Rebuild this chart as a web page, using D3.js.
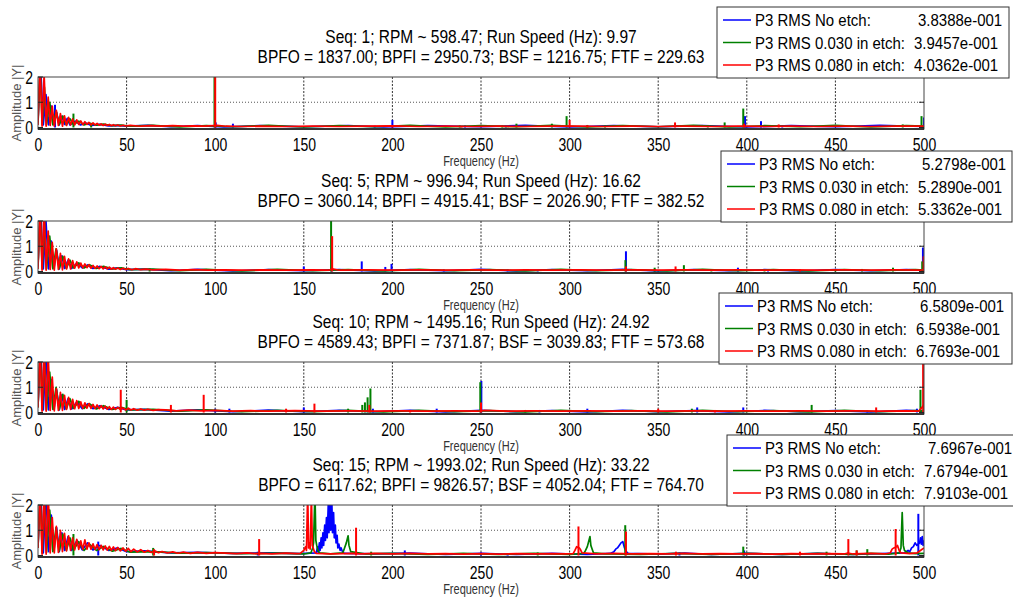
<!DOCTYPE html>
<html>
<head>
<meta charset="utf-8">
<script src="https://cdn.jsdelivr.net/npm/d3@7"></script>
<style>
body { margin: 0; background: #fff; }
svg text { font-family: "Liberation Sans", Arial, Helvetica, sans-serif; }
</style>
</head>
<body>
<script>
/* Envelope spectra, 4 run speeds, 3 etch depths each */
var freqTicks = [0, 50, 100, 150, 200, 250, 300, 350, 400, 450, 500];
var ampTicks = [0, 1, 2];
var seqTitles = [
	"Seq: 1; RPM ~ 598.47; Run Speed (Hz): 9.97",
	"Seq: 5; RPM ~ 996.94; Run Speed (Hz): 16.62",
	"Seq: 10; RPM ~ 1495.16; Run Speed (Hz): 24.92",
	"Seq: 15; RPM ~ 1993.02; Run Speed (Hz): 33.22"
];
var bearingTitles = [
	"BPFO = 1837.00; BPFI = 2950.73; BSF = 1216.75; FTF = 229.63",
	"BPFO = 3060.14; BPFI = 4915.41; BSF = 2026.90; FTF = 382.52",
	"BPFO = 4589.43; BPFI = 7371.87; BSF = 3039.83; FTF = 573.68",
	"BPFO = 6117.62; BPFI = 9826.57; BSF = 4052.04; FTF = 764.70"
];
var legendLabels = ["P3 RMS No etch:", "P3 RMS 0.030 in etch:", "P3 RMS 0.080 in etch:"];
var rmsNoEtch = ["3.8388e-001", "5.2798e-001", "6.5809e-001", "7.6967e-001"];
var rmsEtch030 = ["3.9457e-001", "5.2890e-001", "6.5938e-001", "7.6794e-001"];
var rmsEtch080 = ["4.0362e-001", "5.3362e-001", "6.7693e-001", "7.9103e-001"];
var seriesColors = ["#0000ff", "#008000", "#ff0000"];

/* Seq 1 : [Hz, |Y|] */
var seq1NoEtch = [[0,0.3],[1.5,2.4],[3,0.1],[4.5,1.3],[6,0.1],[7.5,0.85],[9,0.12],[10.5,0.6],[12,0.1],[13.5,0.45],[15,0.12],[16.5,0.36],[18,0.1],[21,0.25],[24,0.1],[27,0.18],[30,0.08],[35,0.12],[40,0.06],[45,0.08],[50,0.05],[62,0.08],[75,0.03],[90,0.07],[105,0.02],[125,0.07],[150,0.03],[175,0.07],[195,0.02],[220,0.07],[250,0.03],[275,0.08],[300,0.02],[325,0.07],[350,0.03],[375,0.07],[400,0.02],[425,0.07],[450,0.03],[475,0.08],[500,0.04]];
var seq1NoEtchPeaks = [[9.6,0.9],[100.3,0.2],[110,0.15],[190,0.07],[200,0.3],[241,0.08],[264,0.08],[399,0.45],[408,0.25],[420,0.08],[500,0.4]];
var seq1Etch030 = [[0,0.2],[1.2,2.3],[2.4,0.1],[3.6,1.6],[4.8,0.1],[6.6,1.0],[8.4,0.1],[10.2,0.65],[12,0.12],[14,0.45],[16,0.1],[18,0.35],[20,0.12],[23,0.25],[26,0.1],[29,0.18],[33,0.09],[37,0.13],[42,0.07],[47,0.09],[52,0.05],[65,0.08],[80,0.02],[95,0.07],[110,0.03],[130,0.08],[150,0.02],[170,0.07],[190,0.03],[210,0.08],[230,0.02],[250,0.07],[270,0.03],[290,0.08],[310,0.02],[330,0.07],[350,0.03],[370,0.08],[390,0.02],[410,0.07],[430,0.03],[450,0.08],[470,0.02],[490,0.07],[500,0.05]];
var seq1Etch030Peaks = [[20,0.55],[30,0.15],[99.6,2.5],[238,0.08],[262,0.08],[270,0.15],[290,0.15],[298.3,0.45],[310,0.1],[320,0.08],[378,0.08],[387.5,0.2],[398,0.75],[488,0.12],[498.6,0.45]];
var seq1Etch080 = [[0,0.1],[1.15,2.6],[2.3,0.05],[3.45,2.1],[4.6,0.05],[5.75,1.2],[6.9,0.08],[8.05,0.85],[9.2,0.05],[10.35,0.68],[11.5,0.08],[12.65,0.55],[13.8,0.05],[14.95,0.46],[16.1,0.08],[17.25,0.4],[18.4,0.1],[19.55,0.34],[20.7,0.1],[21.85,0.3],[23,0.12],[24.15,0.26],[25.3,0.11],[26.45,0.23],[27.6,0.12],[28.75,0.2],[29.9,0.1],[31.05,0.18],[32.2,0.1],[33.35,0.16],[34.5,0.09],[35.65,0.14],[36.8,0.08],[37.95,0.13],[39.1,0.08],[40.25,0.12],[41.4,0.07],[42.55,0.11],[43.7,0.07],[45,0.1],[46.5,0.06],[48,0.09],[49.5,0.06],[52,0.08],[58,0.05],[64,0.07],[70,0.05],[76,0.07],[82,0.05],[88,0.06],[94,0.05],[99,0.07],[101,0.08],[106,0.05],[115,0.04],[125,0.05],[140,0.04],[155,0.05],[170,0.04],[185,0.05],[200,0.06],[215,0.04],[230,0.05],[245,0.04],[260,0.05],[275,0.04],[290,0.05],[305,0.05],[320,0.04],[335,0.05],[350,0.04],[365,0.05],[380,0.04],[395,0.05],[410,0.04],[425,0.05],[440,0.04],[455,0.05],[470,0.04],[485,0.05],[500,0.05]];
var seq1Etch080Peaks = [[100,2.6],[200,0.1],[239,0.06],[300,0.3],[310,0.08],[359.5,0.2],[398.5,0.15],[418,0.12]];

/* Seq 5 */
var seq5NoEtch = [[0,0.3],[1.5,2.5],[3,0.1],[4.5,2.0],[6,0.1],[7.5,1.2],[9,0.12],[10.5,0.85],[12,0.1],[13.5,0.62],[15,0.12],[17,0.45],[19,0.12],[22,0.33],[25,0.14],[28,0.26],[31,0.12],[35,0.2],[40,0.09],[45,0.14],[50,0.07],[60,0.09],[75,0.03],[90,0.08],[110,0.02],[130,0.07],[150,0.03],[170,0.07],[190,0.02],[210,0.07],[230,0.03],[250,0.08],[270,0.02],[290,0.07],[310,0.03],[330,0.08],[350,0.02],[370,0.07],[390,0.03],[410,0.07],[430,0.02],[450,0.07],[470,0.03],[490,0.07],[500,0.05]];
var seq5NoEtchPeaks = [[150,0.2],[165.7,0.5],[182.7,0.4],[196,0.18],[199.5,0.3],[229,0.08],[265,0.08],[282,0.06],[331.8,0.8],[348,0.1],[395,0.15],[412,0.07],[499.4,0.95]];
var seq5Etch030 = [[0,0.2],[1.2,2.4],[2.4,0.1],[3.6,2.1],[4.8,0.1],[6.6,1.4],[8.4,0.1],[10.2,0.9],[12,0.12],[14,0.6],[16,0.12],[18,0.45],[20,0.14],[23,0.34],[26,0.14],[29,0.27],[33,0.12],[37,0.2],[42,0.1],[47,0.14],[52,0.07],[65,0.09],[80,0.03],[95,0.08],[115,0.02],[135,0.08],[155,0.03],[175,0.07],[195,0.02],[215,0.08],[235,0.03],[255,0.07],[275,0.02],[295,0.08],[315,0.03],[335,0.07],[355,0.02],[375,0.08],[395,0.03],[415,0.07],[435,0.02],[455,0.07],[475,0.03],[495,0.07],[500,0.05]];
var seq5Etch030Peaks = [[63,0.12],[165.4,2.6],[331.5,0.45],[348,0.15],[364.5,0.25],[380,0.07],[410,0.07],[450,0.1],[465,0.1],[482.5,0.15],[499,0.4]];
var seq5Etch080 = [[0,0.1],[1.15,2.6],[2.3,0.05],[3.45,2.5],[4.6,0.05],[5.75,1.6],[6.9,0.08],[8.05,1.15],[9.2,0.05],[10.35,0.9],[11.5,0.08],[12.65,0.72],[13.8,0.06],[14.95,0.6],[16.1,0.1],[17.25,0.5],[18.4,0.1],[19.55,0.43],[20.7,0.13],[21.85,0.38],[23,0.14],[24.15,0.33],[25.3,0.14],[26.45,0.3],[27.6,0.15],[28.75,0.27],[29.9,0.13],[31.05,0.24],[32.2,0.12],[33.35,0.22],[34.5,0.11],[35.65,0.2],[36.8,0.1],[37.95,0.18],[39.1,0.1],[40.25,0.17],[41.4,0.09],[42.55,0.15],[43.7,0.09],[45,0.14],[46.5,0.08],[48,0.13],[49.5,0.08],[51,0.12],[53,0.07],[55,0.11],[58,0.07],[61,0.09],[65,0.06],[72,0.08],[80,0.05],[88,0.07],[96,0.05],[105,0.06],[115,0.05],[125,0.06],[140,0.05],[155,0.06],[164,0.05],[166,0.1],[170,0.05],[185,0.06],[200,0.05],[215,0.06],[230,0.05],[245,0.06],[260,0.05],[275,0.06],[290,0.05],[305,0.06],[320,0.05],[335,0.06],[350,0.05],[365,0.06],[380,0.05],[395,0.06],[410,0.05],[425,0.06],[440,0.05],[455,0.06],[470,0.05],[485,0.06],[498,0.05],[500,0.08]];
var seq5Etch080Peaks = [[166,1.4],[331.8,0.2],[359.8,0.2],[430,0.08],[499.8,0.6]];

/* Seq 10 */
var seq10NoEtch = [[0,0.3],[1.5,2.5],[3,0.1],[4.5,2.3],[6,0.1],[7.5,1.3],[9,0.12],[10.5,0.9],[12,0.1],[13.5,0.7],[15,0.12],[17,0.55],[19,0.14],[22,0.42],[25,0.15],[28,0.34],[31,0.15],[35,0.27],[40,0.12],[45,0.2],[50,0.1],[60,0.12],[75,0.05],[90,0.1],[110,0.03],[130,0.09],[150,0.03],[170,0.08],[190,0.03],[210,0.08],[230,0.02],[250,0.08],[270,0.03],[290,0.07],[310,0.02],[330,0.08],[350,0.03],[370,0.07],[390,0.02],[410,0.08],[430,0.03],[450,0.07],[470,0.02],[490,0.08],[500,0.05]];
var seq10NoEtchPeaks = [[100,0.15],[108,0.15],[150,0.2],[189,0.15],[225,0.15],[250.2,1.25],[283,0.1],[310,0.15],[372,0.2],[398,0.2],[468,0.08],[496,0.15]];
var seq10Etch030 = [[0,0.2],[1.2,2.5],[2.4,0.1],[3.6,2.4],[4.8,0.1],[6.6,1.6],[8.4,0.12],[10.2,1.0],[12,0.12],[14,0.72],[16,0.14],[18,0.55],[20,0.16],[23,0.44],[26,0.16],[29,0.35],[33,0.14],[37,0.27],[42,0.12],[47,0.2],[52,0.1],[65,0.12],[80,0.05],[95,0.1],[115,0.03],[135,0.08],[155,0.03],[175,0.08],[195,0.02],[215,0.08],[235,0.03],[255,0.07],[275,0.02],[295,0.08],[315,0.03],[335,0.07],[355,0.02],[375,0.08],[395,0.03],[415,0.07],[435,0.02],[455,0.08],[475,0.03],[495,0.07],[500,0.05]];
var seq10Etch030Peaks = [[50,0.5],[175,0.15],[183,0.3],[184.5,0.4],[186,0.6],[187.6,0.95],[249.6,1.2],[275,0.1],[369,0.15],[436.6,0.3],[498,0.9]];
var seq10Etch080 = [[0,0.2],[1.15,2.6],[2.3,0.05],[3.45,2.6],[4.6,0.05],[5.75,2.3],[6.9,0.08],[8.05,1.4],[9.2,0.06],[10.35,0.95],[11.5,0.08],[12.65,0.8],[13.8,0.08],[14.95,0.68],[16.1,0.12],[17.25,0.6],[18.4,0.12],[19.55,0.52],[20.7,0.15],[21.85,0.47],[23,0.16],[24.15,0.42],[25.3,0.16],[26.45,0.38],[27.6,0.17],[28.75,0.35],[29.9,0.16],[31.05,0.32],[32.2,0.15],[33.35,0.3],[34.5,0.15],[35.65,0.27],[36.8,0.14],[37.95,0.25],[39.1,0.13],[40.25,0.23],[41.4,0.12],[42.55,0.21],[43.7,0.12],[45,0.2],[46.5,0.11],[48,0.18],[49.5,0.1],[51,0.17],[52.5,0.1],[54,0.15],[56,0.09],[58,0.14],[60,0.09],[62,0.13],[65,0.08],[68,0.11],[72,0.1],[78,0.06],[85,0.09],[92,0.06],[100,0.08],[110,0.05],[120,0.07],[130,0.05],[145,0.07],[160,0.05],[175,0.06],[190,0.05],[205,0.06],[220,0.05],[235,0.06],[248,0.05],[252,0.08],[265,0.05],[280,0.06],[295,0.05],[310,0.06],[325,0.05],[340,0.06],[355,0.05],[370,0.06],[385,0.05],[400,0.06],[415,0.05],[430,0.06],[445,0.05],[460,0.06],[475,0.05],[490,0.06],[497,0.05],[500,0.3]];
var seq10Etch080Peaks = [[46.7,0.9],[75,0.3],[93.5,0.7],[140,0.15],[156,0.35],[187,0.3],[210,0.1],[250,0.4],[350,0.15],[382,0.1],[473,0.2],[499.5,2.6]];

/* Seq 15 */
var seq15NoEtch = [[0,0.4],[1.5,2.5],[3,0.1],[4.5,2.4],[6,0.15],[7.5,1.6],[9,0.2],[10.5,1.1],[12,0.15],[13.5,0.9],[15,0.2],[17,0.75],[19,0.2],[22,0.6],[25,0.22],[28,0.5],[31,0.22],[35,0.4],[40,0.2],[45,0.3],[50,0.15],[60,0.18],[75,0.1],[90,0.12],[110,0.08],[130,0.1],[148,0.07],[157,0.1],[157.8,0.35],[158.2,0.12],[158.8,0.5],[159.2,0.2],[159.8,0.7],[160.2,0.3],[160.8,0.9],[161.2,0.4],[161.8,1.2],[162.2,0.6],[162.8,1.5],[163.2,0.7],[163.8,2.0],[164.2,0.9],[164.8,2.4],[165.2,1.0],[165.8,2.2],[166.2,0.9],[166.8,1.7],[167.2,0.7],[167.8,1.2],[168.2,0.5],[168.8,0.8],[169.2,0.3],[169.8,0.45],[170.5,0.2],[171,0.3],[172,0.12],[173,0.08],[190,0.06],[210,0.09],[230,0.04],[250,0.08],[270,0.04],[290,0.08],[310,0.04],[323,0.08],[325,0.15],[326,0.25],[327,0.3],[328,0.4],[329,0.5],[330,0.55],[331,0.3],[332,0.15],[333,0.08],[350,0.05],[365,0.09],[380,0.04],[400,0.08],[420,0.04],[440,0.08],[460,0.04],[480,0.08],[489,0.1],[491,0.2],[492,0.15],[493,0.3],[494,0.35],[495,0.5],[496,0.4],[497.5,0.5],[498,0.7],[498.5,0.45],[499,0.75],[499.5,0.4],[500,0.6]];
var seq15NoEtchPeaks = [[34,0.55],[124,0.15],[207,0.2],[250,0.12],[265,0.08],[362,0.12],[398.5,0.2],[496.8,1.65]];
var seq15Etch030 = [[0,0.3],[1.2,2.5],[2.4,0.1],[3.6,2.4],[4.8,0.12],[6.6,1.8],[8.4,0.15],[10.2,1.1],[12,0.18],[14,0.85],[16,0.2],[18,0.7],[20,0.22],[23,0.55],[26,0.2],[29,0.45],[33,0.2],[37,0.36],[42,0.17],[47,0.28],[52,0.13],[65,0.15],[80,0.09],[95,0.11],[115,0.07],[135,0.09],[150,0.06],[154,0.1],[155,0.3],[155.5,0.5],[156.3,2.5],[156.8,0.6],[157.3,0.4],[158,0.2],[159,0.1],[165,0.06],[172,0.1],[173,0.3],[174,0.5],[175,0.78],[175.5,0.4],[176.5,0.15],[185,0.06],[200,0.08],[220,0.04],[240,0.08],[260,0.04],[280,0.08],[300,0.04],[308,0.08],[309,0.2],[310,0.35],[311.5,0.75],[312,0.4],[312.5,0.3],[313.5,0.1],[320,0.06],[340,0.04],[360,0.08],[380,0.04],[400,0.08],[420,0.04],[440,0.08],[460,0.04],[470,0.08],[480,0.05],[486,0.1],[487,0.3],[487.7,1.7],[488.3,0.4],[489,0.2],[490,0.15],[491,0.1],[495,0.07],[500,0.08]];
var seq15Etch030Peaks = [[20,0.85],[65,0.3],[188,0.15],[282,0.12],[331.4,1.2],[398,0.35],[445,0.15],[462,0.2],[468,0.25]];
var seq15Etch080 = [[0,0.3],[1.15,2.6],[2.3,0.05],[3.45,2.6],[4.6,0.05],[5.75,2.5],[6.9,0.1],[8.05,1.5],[9.2,0.1],[10.35,1.15],[11.5,0.12],[12.65,1.0],[13.8,0.15],[14.95,0.88],[16.1,0.18],[17.25,0.78],[18.4,0.2],[19.55,0.7],[20.7,0.22],[21.85,0.64],[23,0.24],[24.15,0.58],[25.3,0.24],[26.45,0.62],[27.6,0.25],[28.75,0.5],[29.9,0.25],[31.05,0.46],[32.2,0.24],[33.35,0.43],[34.5,0.23],[35.65,0.4],[36.8,0.22],[37.95,0.38],[39.1,0.21],[40.25,0.36],[41.4,0.2],[42.55,0.34],[43.7,0.19],[45,0.32],[46.5,0.18],[48,0.3],[49.5,0.17],[51,0.28],[52.5,0.15],[54,0.25],[56,0.14],[58,0.23],[60,0.13],[62,0.2],[64,0.12],[66,0.18],[68,0.11],[70,0.16],[73,0.1],[76,0.14],[79,0.09],[82,0.13],[86,0.08],[90,0.12],[95,0.08],[100,0.11],[106,0.09],[112,0.07],[118,0.1],[122,0.07],[126,0.08],[132,0.06],[140,0.09],[146,0.07],[148,0.08],[150,0.2],[151,0.35],[151.5,0.2],[152.2,2.5],[152.7,0.3],[153.2,0.5],[153.6,0.25],[154.3,2.4],[154.8,0.4],[155.3,0.3],[156,0.15],[157,0.08],[165,0.06],[172,0.07],[178,0.08],[182,0.06],[190,0.08],[200,0.06],[210,0.08],[220,0.06],[230,0.07],[240,0.05],[250,0.07],[260,0.05],[270,0.07],[280,0.06],[290,0.07],[298,0.06],[302,0.07],[303,0.2],[304,0.35],[305,0.3],[305.5,0.3],[306,0.25],[307,0.1],[315,0.06],[325,0.08],[335,0.06],[345,0.07],[355,0.06],[365,0.08],[375,0.06],[385,0.07],[395,0.06],[405,0.07],[415,0.05],[425,0.07],[435,0.06],[445,0.07],[455,0.06],[457,0.1],[460,0.06],[470,0.08],[478,0.06],[481,0.1],[482,0.25],[483,0.3],[484.5,0.35],[485,0.4],[486,0.2],[487,0.1],[492,0.07],[496,0.1],[500,0.3]];
var seq15Etch080Peaks = [[65.5,0.25],[124.8,0.65],[179.5,1.1],[305,1.15],[331.8,0.95],[360,0.15],[430,0.15],[457.3,0.65],[462,0.2],[484,1.05]];

var panelSeries = [
	[[seq1NoEtch, seq1NoEtchPeaks], [seq1Etch030, seq1Etch030Peaks], [seq1Etch080, seq1Etch080Peaks]],
	[[seq5NoEtch, seq5NoEtchPeaks], [seq5Etch030, seq5Etch030Peaks], [seq5Etch080, seq5Etch080Peaks]],
	[[seq10NoEtch, seq10NoEtchPeaks], [seq10Etch030, seq10Etch030Peaks], [seq10Etch080, seq10Etch080Peaks]],
	[[seq15NoEtch, seq15NoEtchPeaks], [seq15Etch030, seq15Etch030Peaks], [seq15Etch080, seq15Etch080Peaks]]
];

/* layout */
var W = 1013, H = 597;
var plotLeft = 38, plotRight = 924, plotH = 52;
var plotTops = [77, 221, 362, 505];
var legendBoxes = [{x: 717, y: 7, w: 292}, {x: 721, y: 151, w: 291}, {x: 719, y: 293, w: 293}, {x: 727, y: 435, w: 300}];

var svg = d3.select('body').append('svg').attr('width', W).attr('height', H);
var x = d3.scaleLinear().domain([0, 500]).range([plotLeft, plotRight]);
var midX = (plotLeft + plotRight) / 2;

plotTops.forEach(function(top, i){
	var bottom = top + plotH;
	var y = d3.scaleLinear().domain([-0.06, 2]).range([bottom, top]);
	var g = svg.append('g').classed('panel', true);

	svg.append('clipPath').attr('id', 'clip' + i)
		.append('rect').attr('x', plotLeft).attr('y', top)
		.attr('width', plotRight - plotLeft).attr('height', plotH);

	// dotted grid
	g.append('g').selectAll('line').data(freqTicks.slice(1, -1)).join('line')
		.attr('x1', function(d){ return x(d); }).attr('x2', function(d){ return x(d); })
		.attr('y1', top).attr('y2', bottom)
		.attr('stroke', '#333').attr('stroke-dasharray', '2,1.5');
	g.append('line').attr('x1', plotLeft).attr('x2', plotRight)
		.attr('y1', y(1)).attr('y2', y(1))
		.attr('stroke', '#555').attr('stroke-dasharray', '1,2');

	// spectra
	var line = d3.line().x(function(d){ return x(d[0]); }).y(function(d){ return y(d[1]); });
	var plotG = g.append('g').attr('clip-path', 'url(#clip' + i + ')');
	panelSeries[i].forEach(function(s, k){
		plotG.append('path').attr('d', line(s[0]))
			.attr('fill', 'none').attr('stroke', seriesColors[k])
			.attr('stroke-width', 1.7).attr('stroke-linejoin', 'round');
		plotG.append('g').selectAll('line').data(s[1]).join('line')
			.attr('x1', function(d){ return x(d[0]); }).attr('x2', function(d){ return x(d[0]); })
			.attr('y1', y(0)).attr('y2', function(d){ return y(d[1]); })
			.attr('stroke', seriesColors[k]).attr('stroke-width', 2);
	});

	// box + inward ticks
	g.append('rect').attr('x', plotLeft).attr('y', top)
		.attr('width', plotRight - plotLeft).attr('height', plotH)
		.attr('fill', 'none').attr('stroke', '#444').attr('stroke-width', 1);
	g.append('line').attr('x1', plotLeft).attr('x2', plotRight).attr('y1', bottom).attr('y2', bottom)
		.attr('stroke', '#111').attr('stroke-width', 1.5);
	g.append('g').selectAll('line').data(ampTicks).join('line')
		.attr('x1', plotRight - 5).attr('x2', plotRight)
		.attr('y1', function(d){ return y(d); }).attr('y2', function(d){ return y(d); })
		.attr('stroke', '#222');
	g.append('g').selectAll('line').data(ampTicks).join('line')
		.attr('x1', plotLeft).attr('x2', plotLeft + 5)
		.attr('y1', function(d){ return y(d); }).attr('y2', function(d){ return y(d); })
		.attr('stroke', '#222');

	// tick labels
	var xAxis = g.append('g').attr('transform', 'translate(0,' + bottom + ')')
		.call(d3.axisBottom(x).tickValues(freqTicks).tickSize(0).tickFormat(d3.format('d')));
	xAxis.select('.domain').remove();
	xAxis.attr('font-size', 14).attr('font-family', null);
	xAxis.selectAll('text').attr('y', 0).attr('dy', '0.35em').attr('fill', '#000')
		.attr('transform', 'translate(0,16) scale(1,1.25)');

	var yAxis = g.append('g').attr('transform', 'translate(' + plotLeft + ',0)')
		.call(d3.axisLeft(y).tickValues(ampTicks).tickSize(0).tickFormat(d3.format('d')));
	yAxis.select('.domain').remove();
	yAxis.attr('font-size', 14).attr('font-family', null);
	yAxis.selectAll('text').attr('x', -5).attr('dy', '0.35em').attr('fill', '#000')
		.attr('transform', 'scale(1,1.25)');

	// axis titles
	g.append('text').text('Frequency (Hz)')
		.attr('transform', 'translate(' + midX + ',' + (bottom + 32) + ') scale(1,1.25)')
		.attr('text-anchor', 'middle').attr('dy', '0.35em')
		.attr('font-size', 11).attr('fill', '#333');
	g.append('text').text('Amplitude |Y|')
		.attr('transform', 'translate(16,' + (top + plotH / 2) + ') rotate(-90)')
		.attr('text-anchor', 'middle').attr('dy', '0.35em')
		.attr('font-size', 13).attr('fill', '#555');

	// two line title
	g.append('text').text(seqTitles[i])
		.attr('transform', 'translate(' + midX + ',' + (top - 40) + ') scale(1,1.14)')
		.attr('text-anchor', 'middle').attr('dy', '0.35em')
		.attr('font-size', 15.5).attr('fill', '#000');
	g.append('text').text(bearingTitles[i])
		.attr('transform', 'translate(' + midX + ',' + (top - 20) + ') scale(1,1.14)')
		.attr('text-anchor', 'middle').attr('dy', '0.35em')
		.attr('font-size', 15.5).attr('fill', '#000');
});

/* legends go over everything */
plotTops.forEach(function(top, i){
	var b = legendBoxes[i];
	var values = [rmsNoEtch[i], rmsEtch030[i], rmsEtch080[i]];
	var lg = svg.append('g').attr('transform', 'translate(' + b.x + ',' + b.y + ')');
	lg.append('rect').attr('width', b.w).attr('height', 71)
		.attr('fill', '#fff').attr('stroke', '#333').attr('stroke-width', 1);
	var rows = lg.selectAll('g.row').data(legendLabels).join('g').classed('row', true)
		.attr('transform', function(d, k){ return 'translate(0,' + (13 + k * 22.5) + ')'; });
	rows.append('line').attr('x1', 6).attr('x2', 34).attr('y1', 0).attr('y2', 0)
		.attr('stroke', function(d, k){ return seriesColors[k]; }).attr('stroke-width', 1.5);
	rows.append('text').text(function(d){ return d; })
		.attr('transform', 'translate(38,0) scale(1,1.15)')
		.attr('dy', '0.35em').attr('font-size', 15).attr('fill', '#000');
	rows.append('text').text(function(d, k){ return values[k]; })
		.attr('transform', function(d, k){ return 'translate(' + (k === 0 ? 201 : 197) + ',0) scale(1,1.15)'; })
		.attr('dy', '0.35em').attr('font-size', 15).attr('fill', '#000');
});
</script>
</body>
</html>
